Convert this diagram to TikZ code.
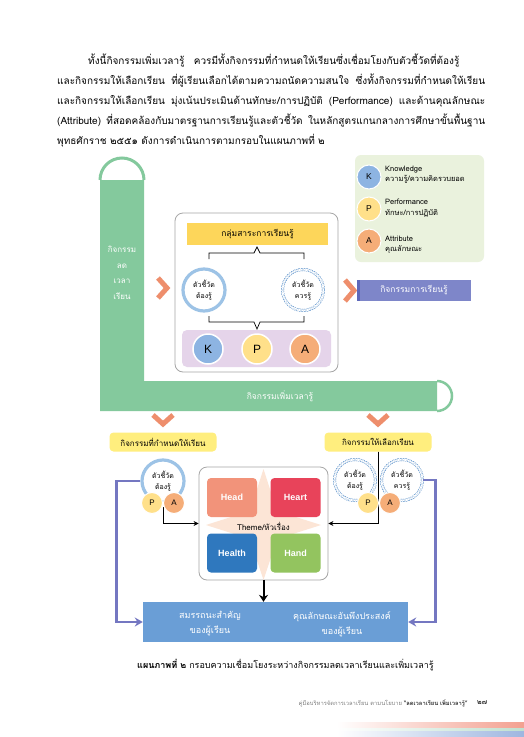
\documentclass[tikz,border=0pt]{standalone}
\usepackage{fontspec}
\setmainfont{Loma}[Script=Thai]
\newfontfamily\lsans{Liberation Sans}
\usetikzlibrary{arrows.meta,shapes.geometric}
\definecolor{lgreen}{HTML}{84C99D}
\definecolor{legbg}{HTML}{EAF2DD}
\definecolor{chev}{HTML}{EE8E6C}
\definecolor{purpbox}{HTML}{7E86C9}
\definecolor{purpedge}{HTML}{5E68BA}
\definecolor{gold}{HTML}{FDD65A}
\definecolor{lyellow}{HTML}{FFEE7E}
\definecolor{lav}{HTML}{E5D4EA}
\definecolor{kcol}{HTML}{8DB4E2}
\definecolor{pcol}{HTML}{FFE08A}
\definecolor{acol}{HTML}{F5AD78}
\definecolor{ringblue}{HTML}{9DC3E6}
\definecolor{dashblue}{HTML}{4A86C5}
\definecolor{bigblue}{HTML}{6A9ED6}
\definecolor{conn}{HTML}{7477C1}
\definecolor{peach}{HTML}{FCE5D6}
\definecolor{headc}{HTML}{F2937A}
\definecolor{heartc}{HTML}{E8435A}
\definecolor{healthc}{HTML}{2F78BE}
\definecolor{handc}{HTML}{93C45F}
\definecolor{salm}{HTML}{F3A090}
\definecolor{mint}{HTML}{BFE0CF}
\definecolor{sky}{HTML}{9EB6E0}
\newcommand{\jline}[2]{\makebox[#1][s]{#2}}
\begin{document}
\begin{tikzpicture}[x=1pt,y=-1pt,
  para/.style={anchor=west,inner sep=0,font=\fontsize{10}{12}\selectfont},
  frame/.style={draw=gray!70,line width=0.8pt,rounded corners=8pt,fill=white,inner sep=0},
  lbl/.style={inner sep=0,align=center,font=\fontsize{8}{10}\selectfont},
  ring/.style={circle,draw=ringblue,line width=3.2pt,minimum size=42pt,inner sep=0,align=center,fill=white,font=\fontsize{7}{11}\selectfont},
  dring/.style={circle,draw=dashblue,line width=0.5pt,double=white,double distance=2pt,dash pattern=on 1.5pt off 1pt,minimum size=41pt,inner sep=0,align=center,fill=white,font=\fontsize{7}{11}\selectfont},
  small/.style={circle,minimum size=21pt,inner sep=0,draw=white,line width=1pt,font=\lsans\fontsize{8}{8}\selectfont},
  big/.style={circle,minimum size=30pt,inner sep=0,draw=white,line width=1.5pt,font=\lsans\fontsize{12}{12}\selectfont},
  leg/.style={circle,minimum size=24pt,inner sep=0,draw=white,line width=1pt,font=\lsans\fontsize{8.5}{8.5}\selectfont},
  legtxt/.style={anchor=west,inner sep=0,align=left,font=\fontsize{7.5}{10.5}\selectfont},
  chevron/.style={draw=chev,line width=5pt,miter limit=10},
  sq/.style={rounded corners=4pt,minimum width=50pt,minimum height=39pt,inner sep=0,text=white,font=\lsans\bfseries\fontsize{9}{9}\selectfont},
  blk/.style={draw=black,line width=1pt,-{Stealth[length=5pt,width=5pt]}},
  purp/.style={draw=conn,line width=2.8pt,-{Stealth[length=8pt,width=9pt]}}
]
\useasboundingbox[fill=white] (0,0) rectangle (524,737);

% paragraph
\node[para] (p1) at (88,61) {ทั้งนี้กิจกรรมเพิ่มเวลารู้\hspace{6pt} ควรมีทั้งกิจกรรมที่กำหนดให้เรียนซึ่งเชื่อมโยงกับตัวชี้วัดที่ต้องรู้};
\node[para] (p2) at (57,81) {\jline{428pt}{และกิจกรรมให้เลือกเรียน ที่ผู้เรียนเลือกได้ตามความถนัดความสนใจ ซึ่งทั้งกิจกรรมที่กำหนดให้เรียน}};
\node[para] (p3) at (57,101) {\jline{428pt}{และกิจกรรมให้เลือกเรียน มุ่งเน้นประเมินด้านทักษะ/การปฏิบัติ (Performance) และด้านคุณลักษณะ}};
\node[para] (p4) at (57,121) {\jline{428pt}{(Attribute) ที่สอดคล้องกับมาตรฐานการเรียนรู้และตัวชี้วัด ในหลักสูตรแกนกลางการศึกษาขั้นพื้นฐาน}};
\node[para] (p5) at (57,141) {พุทธศักราช ๒๕๕๑ ดังการดำเนินการตามกรอบในแผนภาพที่ ๒};

% green L shape
\fill[lgreen] (100,180) -- (144,180) -- (144,381) -- (437,381) -- (437,411) -- (100,411) -- cycle;
\draw[lgreen,line width=3pt] (100,180) arc[start angle=180,end angle=0,radius=22pt];
\draw[lgreen,line width=2.5pt] (437,381) arc[start angle=90,end angle=-90,radius=15pt];
\node[lbl,text=white,font=\fontsize{8}{15.5}\selectfont] (lessen) at (122,273) {กิจกรรม\\ลด\\เวลา\\เรียน};
\node[lbl,text=white,font=\fontsize{8.5}{10}\selectfont] (more) at (280,396) {กิจกรรมเพิ่มเวลารู้};

% legend
\node[fill=legbg,rounded corners=6pt,minimum width=129pt,minimum height=107pt,inner sep=0] (legend) at (419.5,208.5) {};
\node[leg,fill=kcol] (lk) at (369,177) {K};
\node[leg,fill=pcol] (lp) at (369,209) {P};
\node[leg,fill=acol] (la) at (369,241) {A};
\node[legtxt] (tk) at (385,175) {Knowledge\\ความรู้/ความคิดรวบยอด};
\node[legtxt] (tp) at (385,208) {Performance\\ทักษะ/การปฏิบัติ};
\node[legtxt] (ta) at (385,245) {Attribute\\คุณลักษณะ};

% central box
\node[frame,minimum width=163pt,minimum height=159pt] (center) at (256.5,292.5) {};
\node[fill=gold,minimum width=141pt,minimum height=22pt,inner sep=0,font=\fontsize{8.5}{10}\selectfont] (group) at (257.5,234) {กลุ่มสาระการเรียนรู้};
\draw[black,line width=0.7pt] (209,259) -- (209,253) -- (254,253) -- (257,247) -- (260,253) -- (304,253) -- (304,259);
\draw[black,line width=0.7pt] (209,316) -- (209,322) -- (254,322) -- (257,329) -- (260,322) -- (304,322) -- (304,316);
\node[ring] (must) at (204,290) {ตัวชี้วัด\\ต้องรู้};
\node[dring] (should) at (303,290) {ตัวชี้วัด\\ควรรู้};
\node[fill=lav,rounded corners=5pt,minimum width=149pt,minimum height=37pt,inner sep=0] (kpabox) at (256.5,348.5) {};
\node[big,fill=kcol] (K) at (208,349) {K};
\node[big,fill=pcol] (P) at (257,349) {P};
\node[big,fill=acol] (A) at (305,349) {A};

% chevrons
\draw[chevron] (158,278) -- (167,288) -- (158,298);
\draw[chevron] (345,280) -- (354,290.5) -- (345,301);
\draw[chevron] (153,415) -- (163,424) -- (173,415);
\draw[chevron] (368,415) -- (378,424) -- (388,415);

% learning activity box
\node[fill=purpbox,minimum width=114pt,minimum height=21pt,inner sep=0,text=white,font=\fontsize{8.5}{10}\selectfont] (learn) at (414,290.5) {กิจกรรมการเรียนรู้};
\fill[purpedge] (learn.north west) rectangle ++(3,21);

% lower labels
\node[fill=lyellow,rounded corners=4pt,minimum width=107pt,minimum height=19pt,inner sep=0,font=\fontsize{8}{10}\selectfont] (req) at (163,442) {กิจกรรมที่กำหนดให้เรียน};
\node[fill=lyellow,rounded corners=4pt,minimum width=107pt,minimum height=19pt,inner sep=0,font=\fontsize{8}{10}\selectfont] (opt) at (378,442) {กิจกรรมให้เลือกเรียน};

% theme box
\node[frame,minimum width=129pt,minimum height=113pt] (theme) at (263.5,523.5) {};
\fill[peach] (263.5,469) -- (277,511) -- (321,525) -- (277,539) -- (263.5,580) -- (250,539) -- (206,525) -- (250,511) -- cycle;
\node[sq,fill=headc] (head) at (232,497.5) {Head};
\node[sq,fill=heartc] (heart) at (295.5,497.5) {Heart};
\node[sq,fill=healthc] (health) at (232,553) {Health};
\node[sq,fill=handc] (hand) at (295.5,553) {Hand};
\node[lbl,font=\fontsize{8}{10}\selectfont] (themet) at (263.5,526) {Theme/หัวเรื่อง};

% big blue box
\node[fill=bigblue,minimum width=265pt,minimum height=40pt,inner sep=0] (outcome) at (275.5,622) {};
\node[lbl,text=white,font=\fontsize{9}{15}\selectfont] (comp) at (210,624) {สมรรถนะสำคัญ\\ของผู้เรียน};
\node[lbl,text=white,font=\fontsize{9}{15}\selectfont] (attr) at (342,624) {คุณลักษณะอันพึงประสงค์\\ของผู้เรียน};

% black connectors
\coordinate (lj) at (163,507);
\draw[blk] (lj) |- (theme.west);
\draw[blk] (opt.south) |- (theme.east);

% lower rings
\node[ring] (lmust) at (163,481) {ตัวชี้วัด\\ต้องรู้};
\node[small,fill=pcol] (lP) at (152,503) {P};
\node[small,fill=acol] (lA) at (174,503) {A};
\node[dring] (rmust) at (355,480) {ตัวชี้วัด\\ต้องรู้};
\node[dring] (rshould) at (402,480) {ตัวชี้วัด\\ควรรู้};
\draw[black,line width=1pt] (opt.south) -- (378,470);
\node[small,fill=pcol] (rP) at (368,503) {P};
\node[small,fill=acol] (rA) at (390,503) {A};

% down arrow
\draw[draw=black,line width=2pt,-{Stealth[length=7pt,width=9pt]}] (theme.south) -- (theme.south |- outcome.north);

% purple connectors
\draw[purp] (lmust.west) -- ++(-24,0) |- (outcome.west);
\draw[purp] (rshould.east) -- ++(13,0) |- (outcome.east);

% caption and footer
\node[anchor=west,inner sep=0,font=\fontsize{9}{10}\selectfont] (cap) at (137,665) {\textbf{แผนภาพที่ ๒} กรอบความเชื่อมโยงระหว่างกิจกรรมลดเวลาเรียนและเพิ่มเวลารู้};
\node[anchor=east,inner sep=0,font=\fontsize{5.8}{8}\selectfont,text=gray] (foot) at (468,703) {คู่มือบริหารจัดการเวลาเรียน ตามนโยบาย \textcolor{black!80}{\textbf{“ลดเวลาเรียน เพิ่มเวลารู้”}}};
\node[anchor=west,inner sep=0,font=\fontsize{7}{8}\selectfont] (pg) at (477,703) {๒๗};
\shade[left color=white,right color=salm] (337,722) rectangle (524,728);
\shade[left color=white,right color=mint] (337,728) rectangle (524,731);
\shade[left color=white,right color=sky] (337,731) rectangle (524,737);
\end{tikzpicture}
\end{document}
